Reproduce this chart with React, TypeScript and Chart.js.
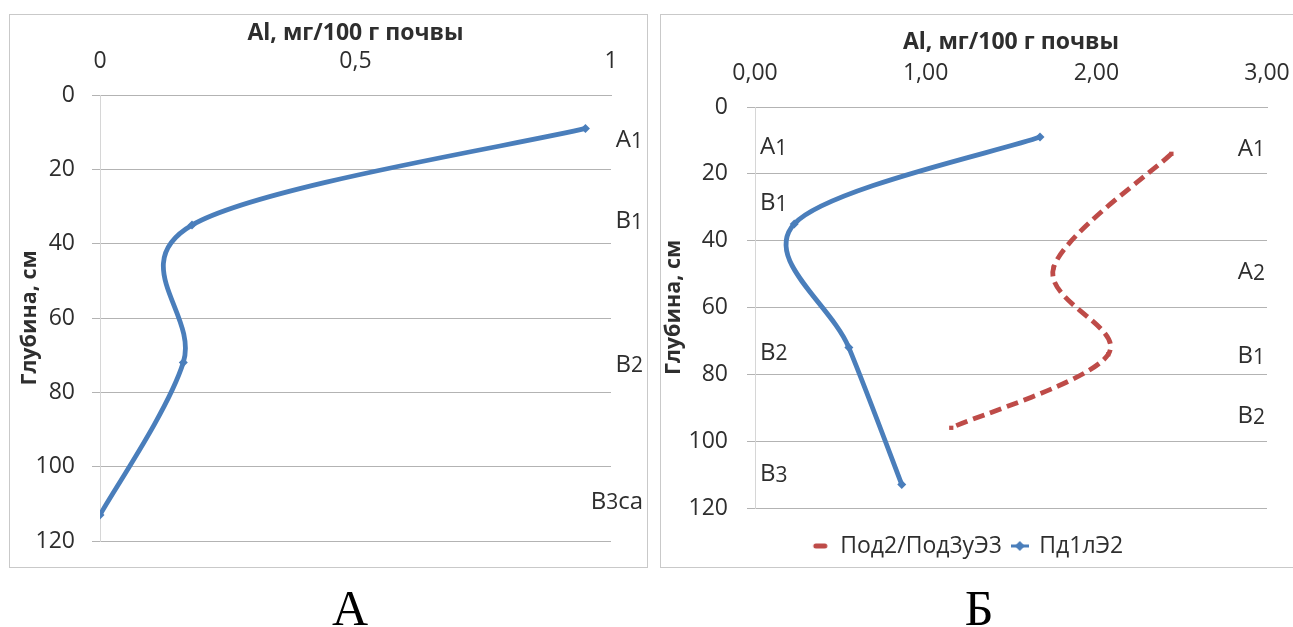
import React, { useEffect, useRef } from "react";
import { Chart, registerables } from "chart.js";

Chart.register(...registerables);

// ---------- data ----------
// Panel A
const depthA = [9, 35, 72, 113];
const alA = [0.95, 0.18, 0.163, 0];
const horizonNamesA = ["A1", "B1", "B2", "B3ca"];
const horizonDepthsA = [11.8, 33.6, 72.1, 109];
const xTicksA = [0, 0.5, 1];

// Panel Б
const seriesNamesB = ["Под2/Под3уЭ3", "Пд1лЭ2"];
const depthRed = [14, 48, 74, 96];
const alRed = [2.44, 1.75, 2.07, 1.15];
const depthBlue = [9, 35, 72, 113];
const alBlue = [1.67, 0.23, 0.55, 0.86];
const horizonNamesBlue = ["A1", "B1", "B2", "B3"];
const horizonDepthsBlue = [11.5, 28.4, 73, 109.5];
const horizonNamesRed = ["A1", "A2", "B1", "B2"];
const horizonDepthsRed = [12, 49, 74, 92];

const xTitle = "Al, мг/100 г почвы";
const yTitle = "Глубина, см";
const panelLetters = ["А", "Б"];

// ---------- styles ----------
const FONT = "'Open Sans', 'Noto Sans', sans-serif";
const TEXT = "#2e2e2e";
const GRID = "#b3b3b3";
const AXIS = "#d6d6d6";
const BLUE = "#4A7EBB";
const RED = "#BE4B48";
const TICK_SIZE = 23;

// Excel-like smoothing: control points at ±(next - prev)/6
const excelSmoothPlugin = {
  id: "excelSmooth",
  beforeDatasetDraw(chart: any, args: any) {
    const meta = args.meta;
    const line = meta.dataset;
    if (!line || !line.updateControlPoints) return;
    line.updateControlPoints(chart.chartArea, "x");
    const pts = meta.data;
    const n = pts.length;
    for (let i = 0; i < n; i++) {
      const p = pts[i];
      const prev = pts[Math.max(0, i - 1)];
      const next = pts[Math.min(n - 1, i + 1)];
      const dx = (next.x - prev.x) / 6;
      const dy = (next.y - prev.y) / 6;
      p.cp1x = p.x - dx;
      p.cp1y = p.y - dy;
      p.cp2x = p.x + dx;
      p.cp2y = p.y + dy;
    }
    line._path = undefined;
  },
};

function drawHorizon(ctx: CanvasRenderingContext2D, text: string, x: number, yMid: number, align: string, size: number) {
  const big = `${size}px ${FONT}`;
  const small = `${Math.round(size * 0.86)}px ${FONT}`;
  const chars = text.split("");
  const subs = chars.map((c) => /\d/.test(c));
  const widths = chars.map((c, i) => {
    ctx.font = subs[i] ? small : big;
    return ctx.measureText(c).width;
  });
  const total = widths.reduce((a, b) => a + b, 0);
  let cx = align === "right" ? x - total : x;
  const base = yMid + size * 0.357;
  ctx.textAlign = "left";
  ctx.textBaseline = "alphabetic";
  chars.forEach((c, i) => {
    ctx.font = subs[i] ? small : big;
    ctx.fillText(c, cx, base + (subs[i] ? size * 0.03 : 0));
    cx += widths[i];
  });
}

const horizonPlugin = {
  id: "horizons",
  afterDatasetsDraw(chart: any, _args: any, opts: any) {
    const groups = (opts && opts.groups) || [];
    const { ctx, chartArea, scales } = chart;
    ctx.save();
    ctx.fillStyle = TEXT;
    for (const g of groups) {
      const x = g.align === "left" ? chartArea.left + g.offset : chartArea.right + g.offset;
      g.names.forEach((t: string, i: number) => {
        drawHorizon(ctx, t, x, scales.y.getPixelForValue(g.depths[i]), g.align, 24);
      });
    }
    ctx.restore();
  },
};

const legendShiftPlugin = {
  id: "legendShift",
  afterLayout(chart: any, _args: any, opts: any) {
    const lg = chart.legend;
    if (!lg || !opts || opts.cx == null) return;
    const pad = lg.options.labels.padding;
    const size = lg.options.labels.font?.size || 12;
    const dx = opts.cx - (lg.left + lg.right) / 2;
    const dy = opts.cy - (lg.top + pad + size / 2);
    lg.left += dx;
    lg.right += dx;
    lg.top += dy;
    lg.bottom += dy;
  },
};

function makeLegendIcon(kind: "dash" | "diamond"): HTMLCanvasElement {
  const c = document.createElement("canvas");
  c.width = 18;
  c.height = 12;
  const g = c.getContext("2d")!;
  if (kind === "dash") {
    g.strokeStyle = RED;
    g.lineWidth = 5;
    g.lineCap = "round";
    g.beginPath();
    g.moveTo(4, 6);
    g.lineTo(13, 6);
    g.stroke();
  } else {
    g.strokeStyle = BLUE;
    g.lineWidth = 3;
    g.beginPath();
    g.moveTo(0, 6);
    g.lineTo(18, 6);
    g.stroke();
    g.fillStyle = BLUE;
    g.beginPath();
    g.moveTo(9, 1);
    g.lineTo(14, 6);
    g.lineTo(9, 11);
    g.lineTo(4, 6);
    g.closePath();
    g.fill();
  }
  return c;
}

function axisTitle(text: string, size: number, padTop: number) {
  return {
    display: true,
    text,
    color: TEXT,
    font: { family: FONT, size, weight: "bold" as const, lineHeight: 1.2 },
    padding: { top: padTop, bottom: 0 },
  };
}

function makeOptions(p: {
  xMax: number;
  xStep: number;
  xFmt: (v: number) => string;
  xH: number;
  yW: number;
  xTitlePad: number;
  xTickLen: number;
  yTitlePad: number;
  yTickPad: number;
  padding: any;
  horizons: any;
  legend: any;
  legendShift?: any;
}) {
  return {
    responsive: false,
    animation: false as const,
    layout: { padding: p.padding },
    plugins: {
      legend: p.legend,
      tooltip: { enabled: false },
      horizons: p.horizons,
      legendShift: p.legendShift || {},
    },
    scales: {
      x: {
        type: "linear" as const,
        position: "top" as const,
        min: 0,
        max: p.xMax,
        afterFit: (s: any) => {
          s.height = p.xH;
        },
        ticks: {
          stepSize: p.xStep,
          padding: 0,
          color: TEXT,
          maxRotation: 0,
          font: { family: FONT, size: TICK_SIZE },
          callback: (v: any) => p.xFmt(Number(v)),
        },
        grid: {
          drawOnChartArea: false,
          drawTicks: true,
          tickLength: p.xTickLen,
          tickColor: "rgba(0,0,0,0)",
          color: GRID,
        },
        border: { display: true, color: GRID },
        title: axisTitle(xTitle, 23, p.xTitlePad),
      },
      y: {
        type: "linear" as const,
        reverse: true,
        min: 0,
        max: 120,
        afterFit: (s: any) => {
          s.width = p.yW;
        },
        ticks: {
          stepSize: 20,
          padding: p.yTickPad,
          color: TEXT,
          font: { family: FONT, size: TICK_SIZE },
        },
        grid: { color: GRID, tickLength: 8, lineWidth: 1 },
        border: { display: true, color: AXIS },
        title: axisTitle(yTitle, 21.5, p.yTitlePad),
      },
    },
  };
}

function toPoints(xs: number[], ys: number[]) {
  return xs.map((x, i) => ({ x, y: ys[i] }));
}

function ChartA() {
  const ref = useRef<HTMLCanvasElement | null>(null);
  useEffect(() => {
    if (!ref.current) return;
    const chart = new Chart(ref.current, {
      type: "scatter",
      data: {
        datasets: [
          {
            label: "A",
            data: toPoints(alA, depthA),
            showLine: true,
            borderColor: BLUE,
            backgroundColor: BLUE,
            borderWidth: 4.8,
            pointStyle: "rectRot",
            pointRadius: 4.5,
            pointBorderWidth: 0,
            tension: 0.4,
          },
        ],
      },
      options: makeOptions({
        xMax: xTicksA[xTicksA.length - 1],
        xStep: xTicksA[1] - xTicksA[0],
        xFmt: (v) => String(v).replace(".", ","),
        xH: 80,
        yW: 90,
        xTitlePad: 5,
        xTickLen: 20,
        yTitlePad: 7,
        yTickPad: 17,
        padding: { left: 0, right: 36, top: 0, bottom: 31 },
        horizons: {
          groups: [{ align: "right", offset: 32, names: horizonNamesA, depths: horizonDepthsA }],
        },
        legend: { display: false },
      }) as any,
      plugins: [excelSmoothPlugin, horizonPlugin],
    });
    return () => chart.destroy();
  }, []);
  return <canvas ref={ref} width={637} height={557} style={{ position: "absolute", left: 10, top: 15 }} />;
}

function ChartB() {
  const ref = useRef<HTMLCanvasElement | null>(null);
  useEffect(() => {
    if (!ref.current) return;
    const icons = [makeLegendIcon("dash"), makeLegendIcon("diamond")];
    const chart = new Chart(ref.current, {
      type: "scatter",
      data: {
        datasets: [
          {
            label: seriesNamesB[0],
            data: toPoints(alRed, depthRed),
            showLine: true,
            borderColor: RED,
            backgroundColor: RED,
            borderWidth: 4.8,
            borderDash: [12, 6],
            pointStyle: "rect",
            pointRadius: 3,
            pointBorderWidth: 0,
            tension: 0.4,
          },
          {
            label: seriesNamesB[1],
            data: toPoints(alBlue, depthBlue),
            showLine: true,
            borderColor: BLUE,
            backgroundColor: BLUE,
            borderWidth: 4.8,
            pointStyle: "rectRot",
            pointRadius: 4.5,
            pointBorderWidth: 0,
            tension: 0.4,
          },
        ],
      },
      options: makeOptions({
        xMax: 3,
        xStep: 1,
        xFmt: (v) => v.toFixed(2).replace(".", ","),
        xH: 92,
        yW: 94,
        xTitlePad: 14,
        xTickLen: 20,
        yTitlePad: 0,
        yTickPad: 19,
        padding: { left: 0, right: 25, top: 0, bottom: 16 },
        horizons: {
          groups: [
            { align: "left", offset: 5, names: horizonNamesBlue, depths: horizonDepthsBlue },
            { align: "right", offset: -2, names: horizonNamesRed, depths: horizonDepthsRed },
          ],
        },
        legend: {
          display: true,
          position: "bottom",
          labels: {
            usePointStyle: true,
            boxWidth: 16,
            boxHeight: 10,
            padding: 10,
            color: TEXT,
            font: { family: FONT, size: 23 },
            generateLabels: (ch: any) =>
              Chart.defaults.plugins.legend.labels
                .generateLabels(ch)
                .map((l: any, i: number) => ({ ...l, pointStyle: icons[i] })),
          },
        },
        legendShift: { cx: 307, cy: 531 },
      }) as any,
      plugins: [excelSmoothPlugin, horizonPlugin, legendShiftPlugin],
    });
    return () => chart.destroy();
  }, []);
  return <canvas ref={ref} width={631} height={552} style={{ position: "absolute", left: 661, top: 15 }} />;
}

export default function App() {
  const border = "1px solid #c9c9c9";
  const letterStyle: React.CSSProperties = {
    position: "absolute",
    top: 583,
    width: 100,
    textAlign: "center",
    fontFamily: "'Liberation Serif', serif",
    fontSize: 50,
    lineHeight: 1,
    color: "#000",
  };
  return (
    <div style={{ position: "fixed", left: 0, top: 0, width: 1293, height: 627, overflow: "hidden", background: "#fff" }}>
      <div style={{ position: "absolute", left: 9, top: 14, width: 637, height: 552, border }} />
      <div
        style={{
          position: "absolute",
          left: 660,
          top: 14,
          width: 640,
          height: 552,
          borderTop: border,
          borderLeft: border,
          borderBottom: border,
        }}
      />
      <ChartA />
      <ChartB />
      <div style={{ ...letterStyle, left: 300 }}>{panelLetters[0]}</div>
      <div style={{ ...letterStyle, left: 929 }}>{panelLetters[1]}</div>
    </div>
  );
}
